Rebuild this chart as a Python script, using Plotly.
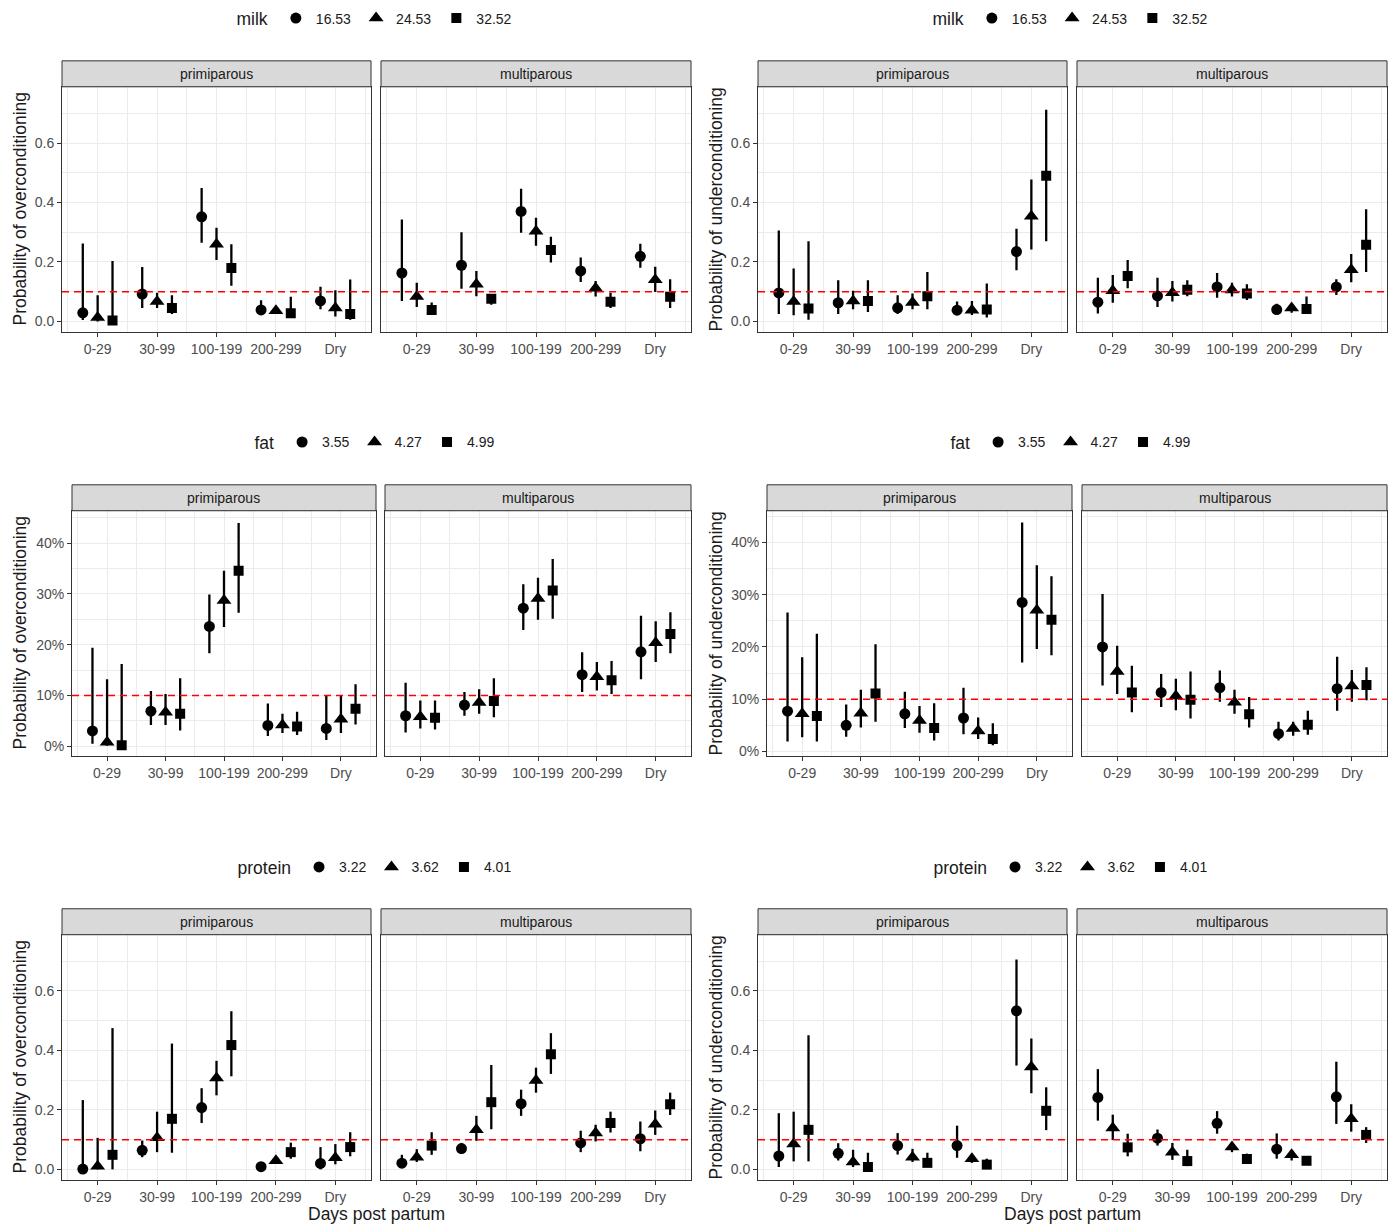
import plotly.graph_objects as go

# ---------------- data ----------------
CATEGORIES = ["0-29", "30-99", "100-199", "200-299", "Dry"]
FACETS = ["primiparous", "multiparous"]
MILK_LEVELS = ["16.53", "24.53", "32.52"]
FAT_LEVELS = ["3.55", "4.27", "4.99"]
PROTEIN_LEVELS = ["3.22", "3.62", "4.01"]

# each list: [level1 (circle), level2 (triangle), level3 (square)] x 5 categories
MILK_OVER_PRIM_EST = [[0.029, 0.092, 0.352, 0.039, 0.069], [0.013, 0.067, 0.260, 0.036, 0.045], [0.003, 0.045, 0.180, 0.028, 0.025]]
MILK_OVER_PRIM_LO = [[0.005, 0.045, 0.265, 0.025, 0.041], [0.0, 0.045, 0.207, 0.025, 0.017], [0.0, 0.025, 0.120, 0.013, 0.006]]
MILK_OVER_PRIM_HI = [[0.262, 0.183, 0.449, 0.071, 0.117], [0.088, 0.097, 0.315, 0.047, 0.105], [0.203, 0.088, 0.260, 0.083, 0.141]]
MILK_OVER_MULTI_EST = [[0.163, 0.189, 0.370, 0.170, 0.219], [0.084, 0.125, 0.303, 0.112, 0.140], [0.039, 0.076, 0.240, 0.066, 0.083]]
MILK_OVER_MULTI_LO = [[0.069, 0.110, 0.298, 0.133, 0.181], [0.049, 0.085, 0.255, 0.084, 0.099], [0.025, 0.056, 0.198, 0.045, 0.045]]
MILK_OVER_MULTI_HI = [[0.343, 0.300, 0.446, 0.215, 0.261], [0.130, 0.170, 0.349, 0.136, 0.184], [0.064, 0.092, 0.285, 0.097, 0.142]]

MILK_UNDER_PRIM_EST = [[0.096, 0.063, 0.046, 0.038, 0.235], [0.067, 0.069, 0.064, 0.038, 0.354], [0.044, 0.069, 0.085, 0.040, 0.490]]
MILK_UNDER_PRIM_LO = [[0.025, 0.025, 0.025, 0.022, 0.172], [0.021, 0.041, 0.041, 0.022, 0.242], [0.006, 0.032, 0.041, 0.013, 0.270]]
MILK_UNDER_PRIM_HI = [[0.306, 0.139, 0.088, 0.067, 0.312], [0.178, 0.103, 0.094, 0.069, 0.477], [0.270, 0.139, 0.166, 0.128, 0.712]]
MILK_UNDER_MULTI_EST = [[0.065, 0.086, 0.116, 0.040, 0.116], [0.103, 0.097, 0.106, 0.045, 0.174], [0.153, 0.107, 0.094, 0.042, 0.258]]
MILK_UNDER_MULTI_LO = [[0.027, 0.049, 0.080, 0.027, 0.089], [0.063, 0.067, 0.084, 0.029, 0.132], [0.112, 0.085, 0.072, 0.025, 0.166]]
MILK_UNDER_MULTI_HI = [[0.147, 0.147, 0.163, 0.060, 0.142], [0.156, 0.136, 0.130, 0.058, 0.227], [0.207, 0.139, 0.125, 0.084, 0.377]]

# fat values in percent
FAT_OVER_PRIM_EST = [[3.0, 6.9, 23.6, 4.1, 3.5], [0.8, 6.7, 28.7, 4.2, 5.3], [0.2, 6.4, 34.6, 3.9, 7.4]]
FAT_OVER_PRIM_LO = [[0.5, 4.2, 18.3, 2.0, 1.2], [0.1, 4.2, 23.5, 2.6, 2.6], [0.0, 3.1, 26.3, 2.2, 4.3]]
FAT_OVER_PRIM_HI = [[19.4, 10.9, 29.9, 8.4, 10.1], [13.2, 10.3, 34.6, 6.4, 9.9], [16.2, 13.4, 44.0, 6.8, 12.2]]
FAT_OVER_MULTI_EST = [[6.0, 8.1, 27.2, 14.1, 18.6], [5.8, 8.6, 29.1, 13.7, 20.4], [5.6, 8.9, 30.7, 13.0, 22.1]]
FAT_OVER_MULTI_LO = [[2.7, 6.0, 22.9, 10.7, 13.2], [3.5, 6.4, 24.9, 11.0, 16.6], [3.3, 5.7, 25.1, 10.3, 18.3]]
FAT_OVER_MULTI_HI = [[12.5, 10.7, 31.9, 18.5, 25.7], [9.0, 11.2, 33.2, 16.6, 24.6], [9.0, 13.4, 36.9, 16.8, 26.4]]

FAT_UNDER_PRIM_EST = [[7.7, 5.0, 7.2, 6.4, 28.5], [7.2, 7.3, 5.9, 3.9, 27.0], [6.8, 11.1, 4.5, 2.4, 25.2]]
FAT_UNDER_PRIM_LO = [[1.9, 2.8, 4.5, 3.3, 17.0], [2.7, 4.6, 3.6, 2.4, 19.6], [1.9, 5.7, 2.1, 1.2, 18.4]]
FAT_UNDER_PRIM_HI = [[26.6, 9.0, 11.4, 12.2, 43.8], [18.0, 11.8, 8.7, 6.5, 35.6], [22.5, 20.5, 9.2, 5.4, 33.5]]
FAT_UNDER_MULTI_EST = [[20.0, 11.3, 12.2, 3.4, 12.0], [15.3, 10.6, 9.4, 4.4, 12.5], [11.3, 9.9, 7.1, 5.1, 12.7]]
FAT_UNDER_MULTI_LO = [[12.6, 8.5, 9.5, 2.1, 7.8], [11.0, 7.9, 7.2, 3.0, 9.5], [7.5, 6.3, 4.6, 3.2, 9.8]]
FAT_UNDER_MULTI_HI = [[30.1, 14.8, 15.5, 5.7, 18.1], [20.2, 13.9, 11.8, 5.7, 15.6], [16.4, 15.3, 10.4, 7.8, 16.1]]

PROT_OVER_PRIM_EST = [[0.001, 0.064, 0.208, 0.009, 0.020], [0.011, 0.106, 0.307, 0.029, 0.039], [0.049, 0.170, 0.418, 0.058, 0.075]]
PROT_OVER_PRIM_LO = [[0.0, 0.041, 0.156, 0.0, 0.0], [0.0, 0.058, 0.249, 0.022, 0.017], [0.0, 0.056, 0.313, 0.036, 0.044]]
PROT_OVER_PRIM_HI = [[0.233, 0.097, 0.273, 0.025, 0.075], [0.106, 0.194, 0.365, 0.030, 0.085], [0.475, 0.423, 0.532, 0.090, 0.125]]
PROT_OVER_MULTI_EST = [[0.021, 0.070, 0.221, 0.089, 0.103], [0.041, 0.133, 0.299, 0.122, 0.152], [0.080, 0.226, 0.387, 0.156, 0.219]]
PROT_OVER_MULTI_LO = [[0.008, 0.053, 0.180, 0.058, 0.061], [0.025, 0.096, 0.258, 0.094, 0.116], [0.049, 0.135, 0.321, 0.124, 0.183]]
PROT_OVER_MULTI_HI = [[0.049, 0.089, 0.268, 0.130, 0.161], [0.068, 0.180, 0.342, 0.150, 0.198], [0.125, 0.351, 0.458, 0.194, 0.258]]

PROT_UNDER_PRIM_EST = [[0.045, 0.054, 0.080, 0.080, 0.533], [0.085, 0.025, 0.041, 0.036, 0.344], [0.133, 0.008, 0.022, 0.016, 0.197]]
PROT_UNDER_PRIM_LO = [[0.008, 0.030, 0.050, 0.039, 0.349], [0.027, 0.008, 0.025, 0.022, 0.256], [0.027, 0.0, 0.008, 0.004, 0.132]]
PROT_UNDER_PRIM_HI = [[0.189, 0.088, 0.122, 0.147, 0.706], [0.194, 0.066, 0.069, 0.051, 0.440], [0.451, 0.056, 0.056, 0.036, 0.276]]
PROT_UNDER_MULTI_EST = [[0.242, 0.105, 0.155, 0.068, 0.244], [0.139, 0.058, 0.075, 0.049, 0.170], [0.074, 0.028, 0.035, 0.029, 0.116]]
PROT_UNDER_MULTI_LO = [[0.164, 0.080, 0.120, 0.036, 0.153], [0.099, 0.032, 0.058, 0.030, 0.127], [0.044, 0.011, 0.022, 0.016, 0.089]]
PROT_UNDER_MULTI_HI = [[0.337, 0.134, 0.196, 0.121, 0.362], [0.184, 0.089, 0.092, 0.064, 0.219], [0.120, 0.066, 0.053, 0.045, 0.142]]

THRESHOLD_PROP = 0.1
THRESHOLD_PCT = 10
PROP_TICKS = [0, 0.2, 0.4, 0.6]
PROP_TICKTEXT = ["0.0", "0.2", "0.4", "0.6"]
PCT_TICKS = [0, 10, 20, 30, 40]
PCT_TICKTEXT = ["0%", "10%", "20%", "30%", "40%"]

# ---------------- layout constants ----------------
W, H = 1394, 1226
FONT = "Liberation Sans, Arial, sans-serif"
SYMBOLS = ["circle", "triangle-up", "square"]
SIZES = [11, 13, 10]
DODGE = [-0.25, 0.0, 0.25]

ROWS_PX = [(87, 333), (512, 758), (937, 1183)]
COLS_PX = {
    0: [[(62, 371), (381, 691)], [(758, 1067), (1077, 1387)]],
    1: [[(72, 376), (385, 691)], [(767, 1072), (1082, 1387)]],
    2: [[(62, 371), (381, 691)], [(758, 1067), (1077, 1387)]],
}
LEGEND_Y_PX = [19, 444, 870]
PAIR_CENTER_PX = [376, 1072]

FIGURES = [
    dict(var="milk", levels=MILK_LEVELS, ylab="Probability of overconditioning", pct=False, yr=[-0.036, 0.789],
         data=[(MILK_OVER_PRIM_EST, MILK_OVER_PRIM_LO, MILK_OVER_PRIM_HI), (MILK_OVER_MULTI_EST, MILK_OVER_MULTI_LO, MILK_OVER_MULTI_HI)]),
    dict(var="milk", levels=MILK_LEVELS, ylab="Probability of underconditioning", pct=False, yr=[-0.036, 0.789],
         data=[(MILK_UNDER_PRIM_EST, MILK_UNDER_PRIM_LO, MILK_UNDER_PRIM_HI), (MILK_UNDER_MULTI_EST, MILK_UNDER_MULTI_LO, MILK_UNDER_MULTI_HI)]),
    dict(var="fat", levels=FAT_LEVELS, ylab="Probability of overconditioning", pct=True, yr=[-1.96, 46.4],
         data=[(FAT_OVER_PRIM_EST, FAT_OVER_PRIM_LO, FAT_OVER_PRIM_HI), (FAT_OVER_MULTI_EST, FAT_OVER_MULTI_LO, FAT_OVER_MULTI_HI)]),
    dict(var="fat", levels=FAT_LEVELS, ylab="Probability of underconditioning", pct=True, yr=[-0.9, 46.05],
         data=[(FAT_UNDER_PRIM_EST, FAT_UNDER_PRIM_LO, FAT_UNDER_PRIM_HI), (FAT_UNDER_MULTI_EST, FAT_UNDER_MULTI_LO, FAT_UNDER_MULTI_HI)]),
    dict(var="protein", levels=PROTEIN_LEVELS, ylab="Probability of overconditioning", pct=False, yr=[-0.036, 0.789],
         data=[(PROT_OVER_PRIM_EST, PROT_OVER_PRIM_LO, PROT_OVER_PRIM_HI), (PROT_OVER_MULTI_EST, PROT_OVER_MULTI_LO, PROT_OVER_MULTI_HI)]),
    dict(var="protein", levels=PROTEIN_LEVELS, ylab="Probability of underconditioning", pct=False, yr=[-0.036, 0.789],
         data=[(PROT_UNDER_PRIM_EST, PROT_UNDER_PRIM_LO, PROT_UNDER_PRIM_HI), (PROT_UNDER_MULTI_EST, PROT_UNDER_MULTI_LO, PROT_UNDER_MULTI_HI)]),
]


def px_x(v):
    return v / W


def px_y(v):
    return 1 - v / H


fig = go.Figure()
layout = dict(width=W, height=H, margin=dict(l=0, r=0, t=0, b=0),
              paper_bgcolor="white", plot_bgcolor="white",
              font=dict(family=FONT, color="#1a1a1a"), showlegend=True)
shapes, annotations = [], []
cat_idx = list(range(len(CATEGORIES)))

for f, spec in enumerate(FIGURES):
    row, col = f // 2, f % 2
    y0p, y1p = ROWS_PX[row]
    legend_name = "legend" if f == 0 else f"legend{f + 1}"
    layout[legend_name] = dict(
        orientation="h", x=px_x(PAIR_CENTER_PX[col]), xanchor="center",
        y=px_y(LEGEND_Y_PX[row]), yanchor="middle",
        title=dict(text=spec["var"], font=dict(size=17.5, color="#1a1a1a"), side="left"),
        font=dict(size=14, color="#1a1a1a"), bgcolor="rgba(0,0,0,0)", itemwidth=30,
    )
    for k in range(2):
        n = f * 2 + k + 1
        xa = "x" if n == 1 else f"x{n}"
        ya = "y" if n == 1 else f"y{n}"
        x0p, x1p = COLS_PX[row][col][k]
        est, lo, hi = spec["data"][k]
        for lev in range(3):
            xs = [i + DODGE[lev] for i in cat_idx]
            fig.add_trace(go.Scatter(
                x=xs, y=est[lev], xaxis=xa, yaxis=ya, mode="markers",
                name=spec["levels"][lev], legend=legend_name, showlegend=(k == 0),
                marker=dict(symbol=SYMBOLS[lev], size=SIZES[lev], color="black", line=dict(width=0)),
                error_y=dict(type="data", symmetric=False,
                             array=[h - e for h, e in zip(hi[lev], est[lev])],
                             arrayminus=[e - l for e, l in zip(est[lev], lo[lev])],
                             width=0, thickness=2.3, color="black"),
                hoverinfo="skip",
            ))
        axis_common = dict(showline=True, mirror=True, linecolor="#333333", linewidth=1,
                           zeroline=False, gridcolor="#ebebeb", gridwidth=1.2,
                           tickfont=dict(size=14, color="#4d4d4d"), ticklen=4,
                           tickcolor="#333333", tickwidth=1)
        xkey = "xaxis" if n == 1 else f"xaxis{n}"
        ykey = "yaxis" if n == 1 else f"yaxis{n}"
        layout[xkey] = dict(axis_common, domain=[px_x(x0p), px_x(x1p)], anchor=ya,
                            range=[-0.6, 4.6], tickmode="array", tickvals=cat_idx,
                            ticktext=CATEGORIES, ticks="outside",
                            minor=dict(tickvals=[-0.5, 0.5, 1.5, 2.5, 3.5, 4.5], showgrid=True,
                                       gridcolor="#ebebeb", gridwidth=0.6, ticks=""))
        if spec["pct"]:
            ytick = dict(tickvals=PCT_TICKS, ticktext=PCT_TICKTEXT,
                         minor=dict(tickvals=[5, 15, 25, 35, 45], showgrid=True,
                                    gridcolor="#ebebeb", gridwidth=0.6, ticks=""))
            thr = THRESHOLD_PCT
        else:
            ytick = dict(tickvals=PROP_TICKS, ticktext=PROP_TICKTEXT,
                         minor=dict(tickvals=[0.1, 0.3, 0.5, 0.7], showgrid=True,
                                    gridcolor="#ebebeb", gridwidth=0.6, ticks=""))
            thr = THRESHOLD_PROP
        layout[ykey] = dict(axis_common, domain=[px_y(y1p), px_y(y0p)], anchor=xa,
                            range=spec["yr"], tickmode="array",
                            ticks="outside" if k == 0 else "",
                            showticklabels=(k == 0), **ytick)
        # threshold line
        shapes.append(dict(type="line", xref=f"{xa} domain", x0=0, x1=1, yref=ya, y0=thr, y1=thr,
                           line=dict(color="#ff0000", width=1.5, dash="7px,5px"), layer="above"))
        # facet strip
        shapes.append(dict(type="rect", xref="paper", yref="paper",
                           x0=px_x(x0p), x1=px_x(x1p), y0=px_y(y0p), y1=px_y(y0p - 26),
                           fillcolor="#d9d9d9", line=dict(color="#333333", width=1), layer="above"))
        annotations.append(dict(text=FACETS[k], xref="paper", yref="paper",
                                x=px_x((x0p + x1p) / 2), y=px_y(y0p - 13), showarrow=False,
                                font=dict(size=14, color="#1a1a1a"), xanchor="center", yanchor="middle"))
    # y-axis title
    annotations.append(dict(text=spec["ylab"], xref="paper", yref="paper",
                            x=px_x(20 if col == 0 else 716), y=px_y((y0p + y1p) / 2),
                            textangle=-90, showarrow=False, font=dict(size=17.5, color="#1a1a1a"),
                            xanchor="center", yanchor="middle"))
    if row == 2:
        annotations.append(dict(text="Days post partum", xref="paper", yref="paper",
                                x=px_x(PAIR_CENTER_PX[col]), y=px_y(1217), showarrow=False,
                                font=dict(size=17.5, color="#1a1a1a"), xanchor="center", yanchor="middle"))

layout["shapes"] = shapes
layout["annotations"] = annotations
fig.update_layout(**layout)
fig.write_html("out.html", config={"displayModeBar": False},
               post_script="document.body.style.margin='0px';")
